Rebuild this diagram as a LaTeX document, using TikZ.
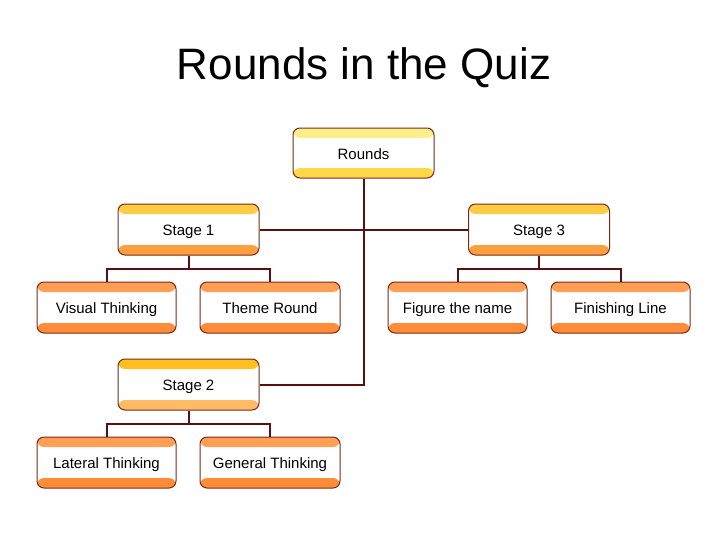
\documentclass[tikz,border=0pt]{standalone}
\usepackage{fontspec}
\setmainfont{Liberation Sans}
\usetikzlibrary{calc}
\definecolor{bord}{HTML}{7A2A14}
\definecolor{conn}{HTML}{5A1010}
\definecolor{ylight}{HTML}{FFEE8C}
\definecolor{ygold}{HTML}{FFD84A}
\definecolor{s1top}{HTML}{FFCC44}
\definecolor{s1bot}{HTML}{FFA040}
\definecolor{s2top}{HTML}{FFC020}
\definecolor{s2bot}{HTML}{FFBB66}
\definecolor{ltop}{HTML}{FF9E55}
\definecolor{lbot}{HTML}{FF8C38}
\tikzset{
  box/.style 2 args={draw=bord, line width=1pt, rounded corners=7pt, fill=white,
    minimum width=#1, minimum height=51pt, inner sep=0pt,
    text height=12pt, text depth=0pt,
    font=\fontsize{15}{17}\selectfont},
  bands/.style 2 args={path picture={
      \fill[#1] (path picture bounding box.north west) rectangle ([yshift=-10pt]path picture bounding box.north east);
      \fill[#2] (path picture bounding box.south west) rectangle ([yshift=10pt]path picture bounding box.south east);}},
  link/.style={draw=conn, line width=2pt},
}
\begin{document}
\begin{tikzpicture}[x=1pt,y=-1pt]
\fill[white] (0,0) rectangle (728,546);
\useasboundingbox (0,0) rectangle (728,546);
\node[font=\fontsize{44}{50}\selectfont] (title) at (364,68) {Rounds in the Quiz};

\node[box={141pt}{}, minimum height=50pt, bands={ylight}{ygold}] (R) at (363.5,153) {Rounds};
\node[box={141pt}{}, bands={s1top}{s1bot}] (S1) at (188.5,229.5) {Stage 1};
\node[box={141pt}{}, bands={s1top}{s1bot}] (S3) at (539,229.5) {Stage 3};
\node[box={141pt}{}, bands={s2top}{s2bot}] (S2) at (188.5,384.5) {Stage 2};
\node[box={139pt}{}, bands={ltop}{lbot}] (VT) at (106.5,307.5) {Visual Thinking};
\node[box={140pt}{}, bands={ltop}{lbot}] (TR) at (270,307.5) {Theme Round};
\node[box={139pt}{}, bands={ltop}{lbot}] (FN) at (457.5,307.5) {Figure the name};
\node[box={139pt}{}, bands={ltop}{lbot}] (FL) at (620.5,307.5) {Finishing Line};
\node[box={139pt}{}, bands={ltop}{lbot}] (LT) at (106.5,462.5) {Lateral Thinking};
\node[box={140pt}{}, bands={ltop}{lbot}] (GT) at (270,462.5) {General Thinking};

\coordinate (j1) at ($(S1.south)+(0,13)$);
\coordinate (j3) at ($(S3.south)+(0,13)$);
\coordinate (j2) at ($(S2.south)+(0,13)$);
\draw[link] (R.south) |- (S2.east);
\draw[link] (S1.east) -- (S3.west);
\draw[link] (S1.south) -- (j1);
\draw[link] (VT.north) |- (j1) -| (TR.north);
\draw[link] (S3.south) -- (j3);
\draw[link] (FN.north) |- (j3) -| (FL.north);
\draw[link] (S2.south) -- (j2);
\draw[link] (LT.north) |- (j2) -| (GT.north);
\end{tikzpicture}
\end{document}
